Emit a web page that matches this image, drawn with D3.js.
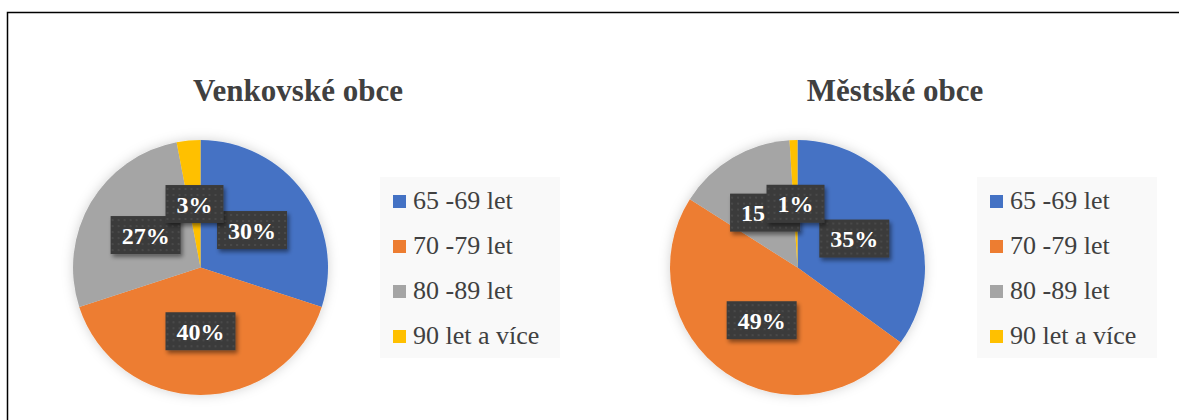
<!DOCTYPE html>
<html>
<head>
<meta charset="UTF-8">
<title>Venkovské a městské obce</title>
<script src="https://d3js.org/d3.v7.min.js"></script>
<style>
  body { margin: 0; background: #fff; }
  svg { display: block; }
</style>
</head>
<body>
<div id="chart"></div>
<script>
// data
const categories = ["65 -69 let", "70 -79 let", "80 -89 let", "90 let a více"];
const venkovskeValues = [30, 40, 27, 3];
const mestskeValues = [35, 49, 15, 1];
const titles = ["Venkovské obce", "Městské obce"];
const colors = ["#4472C4", "#ED7D31", "#A5A5A5", "#FFC000"];

const fontFam = "Liberation Serif";
const W = 1179, H = 420;
const svg = d3.select("#chart").append("svg")
    .attr("width", W).attr("height", H);

const defs = svg.append("defs");
const pat = defs.append("pattern").attr("id", "dots")
    .attr("width", 6).attr("height", 6).attr("patternUnits", "userSpaceOnUse");
pat.append("rect").attr("width", 6).attr("height", 6).attr("fill", "#3b3b3b");
pat.append("circle").attr("cx", 3).attr("cy", 3).attr("r", 0.8).attr("fill", "#5a5a5a");

defs.append("filter").attr("id", "boxShadow")
    .attr("x", "-20%").attr("y", "-20%").attr("width", "150%").attr("height", "160%")
  .append("feDropShadow").attr("dx", 2).attr("dy", 3).attr("stdDeviation", 2)
    .attr("flood-color", "#000").attr("flood-opacity", 0.45);
defs.append("filter").attr("id", "pieShadow")
    .attr("x", "-20%").attr("y", "-20%").attr("width", "140%").attr("height", "140%")
  .append("feDropShadow").attr("dx", 0).attr("dy", 0).attr("stdDeviation", 6)
    .attr("flood-color", "#000").attr("flood-opacity", 0.18);

// outer frame (open at right and bottom, cropped)
svg.append("rect")
    .attr("x", 7.5).attr("y", 12.5).attr("width", W + 20).attr("height", H + 20)
    .attr("fill", "none").attr("stroke", "#000").attr("stroke-width", 1.5);

const panelOffset = 597;
const radius = 127.5;
const pie = d3.pie().sort(null).value(d => d);
const arc = d3.arc().innerRadius(0).outerRadius(radius);

const color = d3.scaleOrdinal().domain(d3.range(categories.length)).range(colors);

[venkovskeValues, mestskeValues].forEach((values, p) => {
    const g = svg.append("g").attr("transform", `translate(${p * panelOffset},0)`);

    g.append("text")
        .attr("x", 298).attr("y", 101)
        .attr("text-anchor", "middle")
        .style("font-family", fontFam).style("font-weight", "bold")
        .style("font-size", "31px").style("fill", "#404040")
        .text(titles[p]);

    const arcs = pie(values);
    const pg = g.append("g").attr("transform", "translate(200.5,267.5)");

    pg.append("g").attr("filter", "url(#pieShadow)")
      .selectAll("path").data(arcs).enter().append("path")
        .attr("d", arc)
        .attr("fill", (d, i) => color(i));

    const lbl = pg.selectAll(".lbl").data(arcs).enter().append("g")
        .attr("class", "lbl")
        .attr("transform", d => `translate(${arc.centroid(d)})`);

    lbl.each(function (d) {
        const el = d3.select(this);
        const rect = el.append("rect").attr("fill", "url(#dots)").attr("filter", "url(#boxShadow)");
        const t = el.append("text").attr("text-anchor", "middle").attr("y", 8.5)
            .style("font-family", fontFam).style("font-weight", "bold")
            .style("font-size", "24px").style("fill", "#fff")
            .text(d.data + "%");
        const w = t.node().getComputedTextLength() + 22;
        rect.attr("x", -w / 2).attr("y", -19).attr("width", w).attr("height", 38);
    });

    // legend
    const lg = g.append("g").attr("transform", "translate(380,177)");
    lg.append("rect").attr("width", 180).attr("height", 181).attr("fill", "#f9f9f9");
    const item = lg.selectAll(".item").data(categories).enter().append("g")
        .attr("class", "item")
        .attr("transform", (d, i) => `translate(13,${18 + i * 45})`);
    item.append("rect").attr("width", 13).attr("height", 13)
        .attr("fill", (d, i) => color(i));
    item.append("text").attr("x", 20).attr("y", 14)
        .style("font-family", fontFam).style("font-size", "26px").style("fill", "#404040")
        .text(d => d);
});
</script>
</body>
</html>
